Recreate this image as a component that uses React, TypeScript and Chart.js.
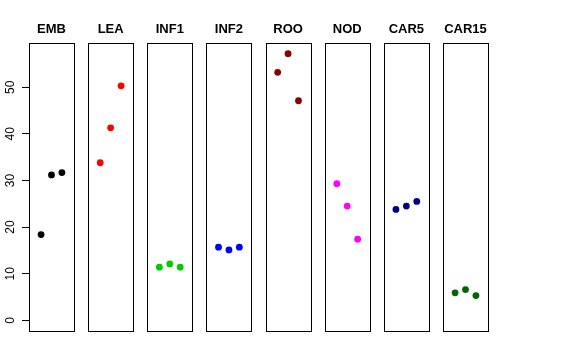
import React, { useEffect, useRef } from "react";
import { Chart, registerables } from "chart.js";
Chart.register(...registerables);

const panels = ["EMB", "LEA", "INF1", "INF2", "ROO", "NOD", "CAR5", "CAR15"];
const panelColors = ["#000000", "#FF0000", "#00CD00", "#0000FF", "#8B0000", "#FF00FF", "#000080", "#006400"];

const EMB = [18.4, 31.2, 31.7];
const LEA = [33.8, 41.3, 50.3];
const INF1 = [11.4, 12.1, 11.4];
const INF2 = [15.7, 15.1, 15.7];
const ROO = [53.2, 57.2, 47.1];
const NOD = [29.3, 24.5, 17.4];
const CAR5 = [23.8, 24.5, 25.5];
const CAR15 = [5.9, 6.6, 5.3];
const seriesValues = [EMB, LEA, INF1, INF2, ROO, NOD, CAR5, CAR15];

const yTicks = [0, 10, 20, 30, 40, 50];
const withinPanel = [1, 2, 3];

// panel geometry in x data units
const PANEL_MIN = -0.16;
const PANEL_MAX = 4.16;
const PANEL_STEP = 5.68;
const Y_MIN = -2.288;
const Y_MAX = 59.488;

const panelPlugin = {
  id: "panelPlugin",
  afterDraw(chart: any) {
    const ctx = chart.ctx;
    const xs = chart.scales.x;
    const ys = chart.scales.y;
    const top = chart.chartArea.top;
    const bottom = chart.chartArea.bottom;
    ctx.save();
    panels.forEach((name, i) => {
      const l = xs.getPixelForValue(i * PANEL_STEP + PANEL_MIN);
      const r = xs.getPixelForValue(i * PANEL_STEP + PANEL_MAX);
      ctx.strokeStyle = "#000000";
      ctx.lineWidth = 1;
      ctx.strokeRect(Math.round(l) + 0.5, Math.round(top) + 0.5, Math.round(r - l), Math.round(bottom - top));
      ctx.fillStyle = "#000000";
      ctx.font = "bold 13px 'Liberation Sans', Arial, sans-serif";
      ctx.textAlign = "center";
      ctx.textBaseline = "middle";
      ctx.fillText(name, (l + r) / 2, 29.5);
    });
    // y axis line from first to last tick
    const x0 = Math.round(xs.getPixelForValue(PANEL_MIN)) + 0.5;
    ctx.beginPath();
    ctx.moveTo(x0, ys.getPixelForValue(yTicks[0]));
    ctx.lineTo(x0, ys.getPixelForValue(yTicks[yTicks.length - 1]));
    ctx.stroke();
    ctx.restore();
  },
};

export default function App() {
  const ref = useRef<HTMLCanvasElement | null>(null);
  useEffect(() => {
    if (!ref.current) return;
    const datasets = seriesValues.map((vals, i) => ({
      label: panels[i],
      data: vals.map((v, j) => ({ x: i * PANEL_STEP + withinPanel[j], y: v })),
      backgroundColor: panelColors[i],
      borderColor: panelColors[i],
      pointRadius: 3.4,
      pointBorderWidth: 0,
    }));
    const chart = new Chart(ref.current, {
      type: "scatter",
      data: { datasets },
      options: {
        animation: false,
        responsive: false,
        layout: { padding: { left: 0, top: 43, right: 88, bottom: 29 } },
        plugins: { legend: { display: false }, tooltip: { enabled: false }, title: { display: false } },
        scales: {
          x: {
            type: "linear",
            display: false,
            min: PANEL_MIN,
            max: 7 * PANEL_STEP + PANEL_MAX,
          },
          y: {
            type: "linear",
            position: "left",
            min: Y_MIN,
            max: Y_MAX,
            afterBuildTicks: (scale: any) => {
              scale.ticks = yTicks.map((v) => ({ value: v }));
            },
            afterFit: (scale: any) => {
              scale.width = 29;
            },
            border: { display: false },
            grid: { drawOnChartArea: false, drawTicks: true, tickLength: 7, color: "#000000" },
            ticks: {
              color: "#000000",
              font: { size: 12, family: "'Liberation Sans', Arial, sans-serif" },
              minRotation: 90,
              maxRotation: 90,
              crossAlign: "center",
              padding: 5,
            },
          },
        },
      },
      plugins: [panelPlugin],
    });
    return () => chart.destroy();
  }, []);
  return (
    <div style={{ position: "absolute", left: 0, top: 0, width: 576, height: 360, background: "#fff" }}>
      <canvas ref={ref} width={576} height={360} style={{ width: 576, height: 360 }} />
    </div>
  );
}
